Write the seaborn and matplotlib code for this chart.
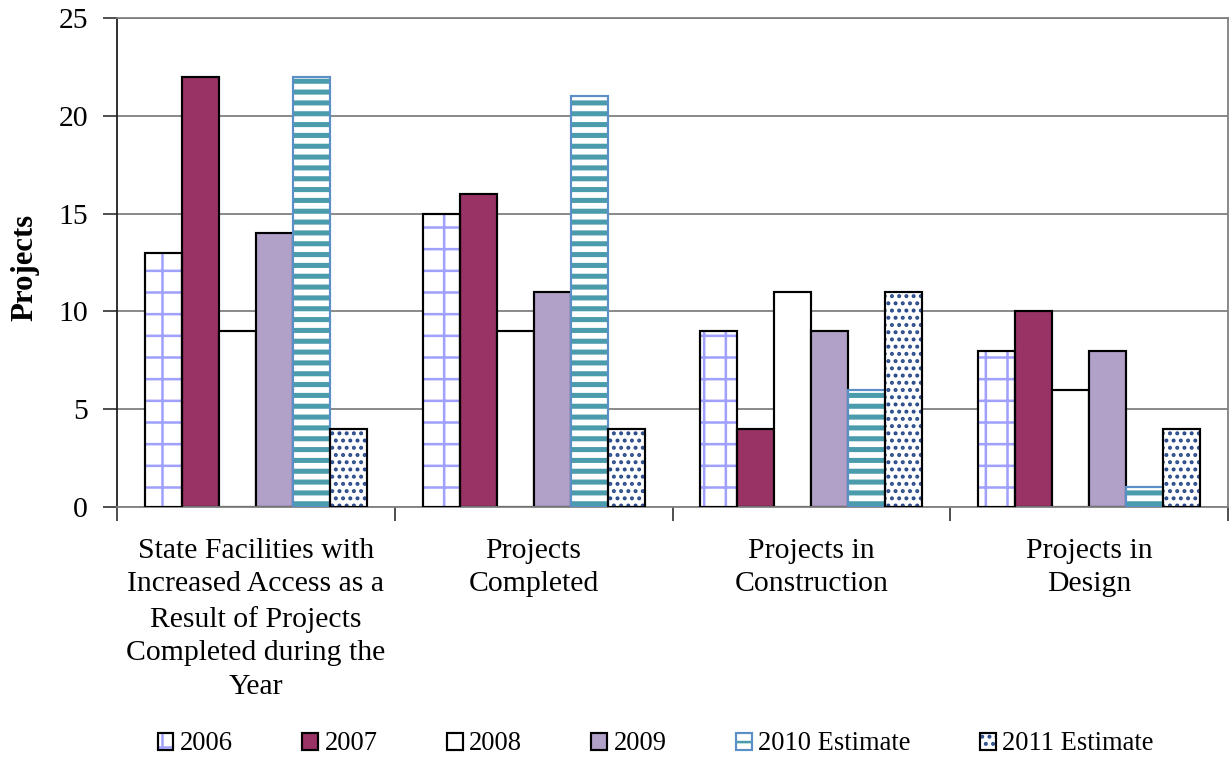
import matplotlib
matplotlib.use("Agg")
import matplotlib.pyplot as plt
import seaborn as sns
import pandas as pd
from matplotlib.patches import Rectangle, Patch
from matplotlib.legend_handler import HandlerTuple

categories = [
    "State Facilities with\nIncreased Access as a\nResult of Projects\nCompleted during the\nYear",
    "Projects\nCompleted",
    "Projects in\nConstruction",
    "Projects in\nDesign",
]
series = ["2006", "2007", "2008", "2009", "2010 Estimate", "2011 Estimate"]
v2006 = [13, 15, 9, 8]
v2007 = [22, 16, 4, 10]
v2008 = [9, 9, 11, 6]
v2009 = [14, 11, 9, 8]
v2010 = [22, 21, 6, 1]
v2011 = [4, 4, 11, 4]
values = [v2006, v2007, v2008, v2009, v2010, v2011]
yticks = [0, 5, 10, 15, 20, 25]

# styling per series: face, hatch, hatch colour, edge colour, hatch line width
faces = ["white", "#993366", "white", "#b1a0c7", "white", "white"]
hatches = ["+", None, None, None, "--", "..."]
hatch_cols = ["#a0a0ff", None, None, None, "#4a9bab", "#2a4a8a"]
hatch_lws = [1.4, None, None, None, 2.8, 1.4]
edges = ["black", "black", "black", "black", "#5b8fc8", "black"]

rows = []
for s, vals in zip(series, values):
    for c, v in zip(categories, vals):
        rows.append({"category": c, "series": s, "value": v})
df = pd.DataFrame(rows)

sns.set_style("white")
plt.rcParams["font.family"] = ["Liberation Serif", "DejaVu Serif"]
plt.rcParams["hatch.linewidth"] = 1.4
plt.rcParams["text.color"] = "black"
plt.rcParams["axes.labelcolor"] = "black"
plt.rcParams["xtick.labelcolor"] = "black"
plt.rcParams["ytick.labelcolor"] = "black"

fig = plt.figure(figsize=(1230 / 130, 757 / 130), dpi=130)
ax = fig.add_axes([117 / 1230, 1 - 507 / 757, (1228 - 117) / 1230, (507 - 18) / 757])

sns.barplot(data=df, x="category", y="value", hue="series", order=categories,
            hue_order=series, palette=faces, saturation=1, width=0.8, gap=0,
            legend=False, ax=ax, zorder=2)


def style_hatch(p, i):
    p.set_facecolor(faces[i])
    p.set_hatch(hatches[i])
    p.set_edgecolor(hatch_cols[i])
    p.set_linewidth(0)
    if hasattr(p, "set_hatch_linewidth"):
        p.set_hatch_linewidth(hatch_lws[i])


for i, cont in enumerate(ax.containers):
    for bar in cont:
        if hatches[i]:
            style_hatch(bar, i)
            ax.add_patch(Rectangle(bar.get_xy(), bar.get_width(), bar.get_height(),
                                   fill=False, edgecolor=edges[i], linewidth=1.2, zorder=3))
        else:
            bar.set_edgecolor(edges[i])
            bar.set_linewidth(1.2)

ax.set_xlim(-0.5, len(categories) - 0.5)
ax.set_ylim(0, 25)
ax.set_yticks(yticks)
ax.set_yticklabels([str(t) for t in yticks], fontsize=16.5, color="black")
ax.set_xticks(range(len(categories)))
ax.set_xticklabels(categories, fontsize=16.5, linespacing=1.39, color="black")
ax.set_xticks([i - 0.5 for i in range(len(categories) + 1)], minor=True)
ax.tick_params(axis="x", which="major", length=0, pad=17)
ax.tick_params(axis="x", which="minor", length=8, width=1, color="#404040", direction="out", bottom=True)
ax.tick_params(axis="y", length=8, width=1, color="#404040", direction="out", left=True, pad=8)
ax.grid(axis="y", color="#808080", linewidth=1)
ax.grid(axis="x", visible=False)
ax.set_axisbelow(True)
for side in ["top", "right", "bottom"]:
    ax.spines[side].set_color("#808080")
    ax.spines[side].set_linewidth(1)
ax.spines["left"].set_color("#202020")
ax.spines["left"].set_linewidth(1)

ax.set_xlabel("")
ax.set_ylabel("Projects", fontsize=17, fontweight="bold", color="black")
ax.yaxis.set_label_coords(-0.07, 0.49)

handles = []
for i in range(len(series)):
    if hatches[i]:
        hp = Patch()
        style_hatch(hp, i)
        h = (hp, Patch(fill=False, edgecolor=edges[i], linewidth=1.2))
    else:
        h = Patch(facecolor=faces[i], edgecolor=edges[i], linewidth=1.2)
    handles.append(h)

fig.legend(handles, series, loc="center", bbox_to_anchor=(0.533, 1 - 744 / 757),
           ncol=6, frameon=False, fontsize=14.7, handlelength=0.6, handleheight=0.6,
           handletextpad=0.25, columnspacing=2.6, labelcolor="black",
           handler_map={tuple: HandlerTuple(ndivide=1)})

fig.savefig("out.png", dpi=130)
